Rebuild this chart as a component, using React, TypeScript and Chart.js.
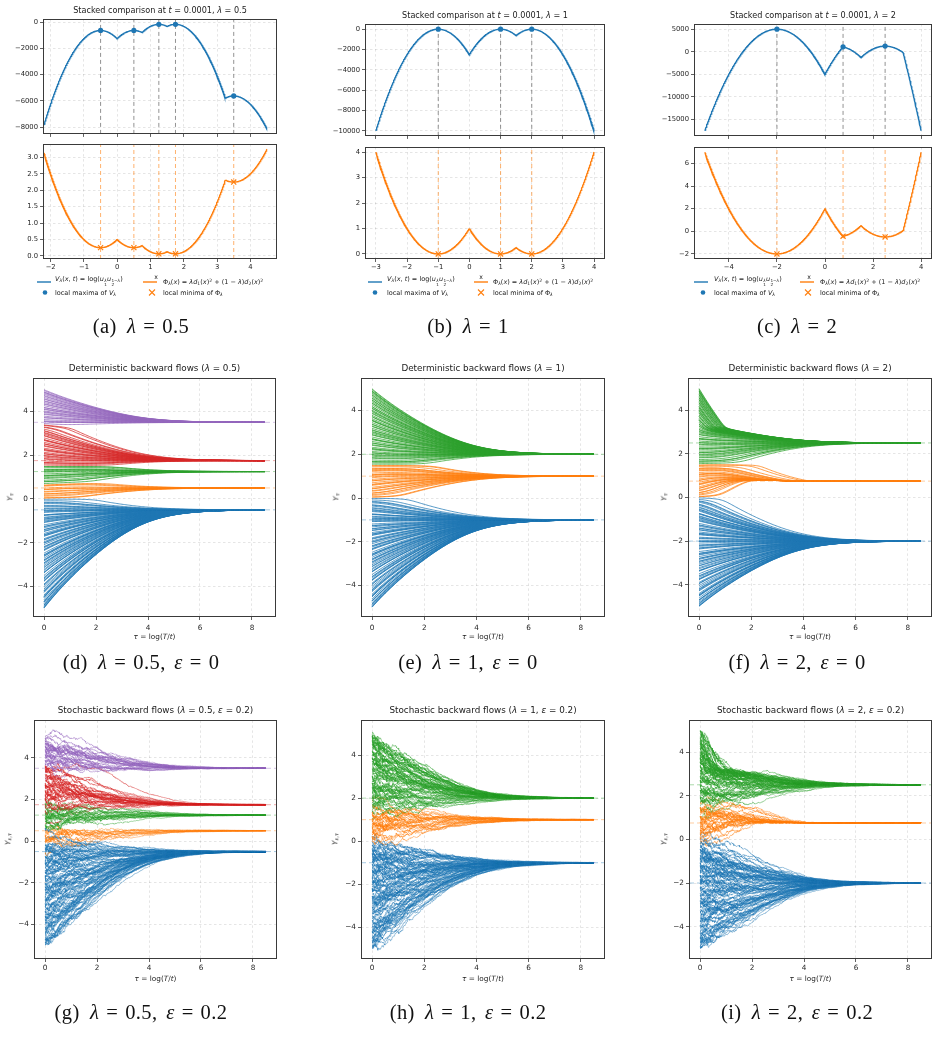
import React, { useEffect, useRef } from "react";
import { Chart, registerables } from "chart.js";
Chart.register(...registerables);

// ---------------- values ----------------
const LAMBDAS = [0.5, 1, 2];
const SET_A1 = [-1, 1, 2]; // zero set of d1 (minima of Phi for lambda = 1)
const SET_A2 = [0, 1.5, 5]; // zero set of d2
const T_SNAPSHOT = 0.0001;
const X_SPANS = [[-2.2, 4.5], [-3, 4], [-5, 4]];
const CRITICAL_POINTS = [
  [-0.5, 0.5, 1.25, 1.75, 3.5],
  [-1, 1, 2],
  [-2, 0.75, 2.5],
];
const TOP_X_LIMITS = [[-2.23, 4.8], [-3.35, 4.35], [-5.45, 4.45]];
const V_LIMITS = [[-8523, 242], [-10500, 500], [-18625, 6125]];
const PHI_LIMITS = [[-0.097, 3.409], [-0.2, 4.2], [-2.45, 7.45]];
const V_TICKS = [
  [-8000, -6000, -4000, -2000, 0],
  [-10000, -8000, -6000, -4000, -2000, 0],
  [-15000, -10000, -5000, 0, 5000],
];
const PHI_TICKS = [
  [0, 0.5, 1, 1.5, 2, 2.5, 3],
  [0, 1, 2, 3, 4],
  [-2, 0, 2, 4, 6],
];
const TOP_X_TICKS = [
  [-2, -1, 0, 1, 2, 3, 4],
  [-3, -2, -1, 0, 1, 2, 3, 4],
  [-4, -2, 0, 2, 4],
];
const TAU_TICKS = [0, 2, 4, 6, 8];
const FLOW_Y_TICKS = [-4, -2, 0, 2, 4];
const TAU_LIMITS = [-0.425, 8.925];
const DET_Y_LIMITS = [[-5.4, 5.51], [-5.44, 5.47], [-5.48, 5.46]];
const STOCH_Y_LIMITS = [[-5.66, 5.8], [-5.47, 5.61], [-5.48, 5.45]];
const TAU_END = 8.5;
const EPSILON = 0.2;
const START_POINTS = [
  -4.99, -4.97, -4.96, -4.91, -4.86, -4.85, -4.79, -4.72, -4.7, -4.69, -4.61, -4.52, -4.5, -4.47, -4.46, -4.4, -4.28, -4.25, -4.21, -4.19, -4.12, -4.04,
  -3.95, -3.94, -3.89, -3.77, -3.74, -3.73, -3.66, -3.61, -3.59, -3.5, -3.38, -3.36, -3.35, -3.27, -3.22, -3.14, -3.12, -3.05,
  -2.98, -2.93, -2.92, -2.84, -2.8, -2.79, -2.71, -2.63, -2.61, -2.57, -2.56, -2.48, -2.36, -2.33, -2.31, -2.24, -2.2, -2.18, -2.09, -2.02, -2.01,
  -1.96, -1.88, -1.86, -1.82, -1.71, -1.69, -1.65, -1.64, -1.58, -1.49, -1.47, -1.41, -1.4, -1.32, -1.27, -1.26, -1.19, -1.08, -1.06, -1.02,
  -0.98, -0.93, -0.92, -0.87, -0.84, -0.76, -0.74, -0.73, -0.62, -0.59, -0.55, -0.53, -0.47, -0.44, -0.37, -0.33, -0.31, -0.22, -0.18, -0.16, -0.09, -0.02,
  0.04, 0.05, 0.12, 0.16, 0.22, 0.23, 0.31, 0.34, 0.42, 0.43, 0.49, 0.58, 0.61, 0.63, 0.7, 0.78, 0.79, 0.85, 0.93, 0.97,
  1.03, 1.06, 1.07, 1.14, 1.22, 1.25, 1.29, 1.33, 1.34, 1.42, 1.47, 1.48, 1.55, 1.61, 1.66, 1.67, 1.74, 1.82, 1.85, 1.91, 1.96, 1.99,
  2.06, 2.07, 2.13, 2.21, 2.25, 2.26, 2.32, 2.41, 2.44, 2.51, 2.52, 2.59, 2.67, 2.7, 2.71, 2.79, 2.88, 2.9, 2.96,
  3.01, 3.04, 3.1, 3.12, 3.19, 3.27, 3.29, 3.36, 3.38, 3.45, 3.53, 3.54, 3.57, 3.63, 3.71, 3.72, 3.78, 3.86, 3.89, 3.95, 3.98,
  4.02, 4.09, 4.11, 4.17, 4.18, 4.26, 4.33, 4.35, 4.41, 4.47, 4.49, 4.56, 4.58, 4.64, 4.7, 4.73, 4.79, 4.84, 4.88, 4.89, 4.95, 4.99,
];
const SERIES_COLORS = ["#1f77b4", "#ff7f0e", "#2ca02c", "#d62728", "#9467bd"];

// flow model settings
const SMOOTH0 = 0.5;
const RATE_FLOOR = 0.3;
const RATE_KNEE = 20;
const NOISE_T = 2;

// ---------------- layout ----------------
const TOP_GEOM = [
  { l: 43, r: 277, ut: 17, ub: 134, lt: 142, lb: 259, titleY: 10,
    leg: { h1: 37, t1: 55, h2: 143, t2: 163, dot: 45, cross: 152 } },
  { l: 365, r: 605, ut: 22, ub: 136, lt: 145, lb: 259, titleY: 15,
    leg: { h1: 368, t1: 387, h2: 474, t2: 493, dot: 375, cross: 481 } },
  { l: 694, r: 932, ut: 22, ub: 136, lt: 145, lb: 259, titleY: 15,
    leg: { h1: 694, t1: 714, h2: 800, t2: 820, dot: 703, cross: 808 } },
];
const DET_GEOM = [
  { l: 33, r: 276, t: 376, b: 617, ylab: 10 },
  { l: 361, r: 605, t: 376, b: 617, ylab: 336 },
  { l: 688, r: 932, t: 376, b: 617, ylab: 664 },
];
const STOCH_GEOM = [
  { l: 34, r: 277, t: 718, b: 959, ylab: 8 },
  { l: 361, r: 605, t: 718, b: 959, ylab: 335 },
  { l: 689, r: 932, t: 718, b: 959, ylab: 664 },
];
const CAPTION_X = [141, 468, 797];
const CAPTION_Y = [326, 662, 1012];

const FONT = "DejaVu Sans";
Chart.defaults.font.family = FONT;
Chart.defaults.color = "#222";

function rgba(hex: string, a: number) {
  const n = parseInt(hex.slice(1), 16);
  return `rgba(${(n >> 16) & 255},${(n >> 8) & 255},${n & 255},${a})`;
}
function fmtNum(v: number, dec = 0) {
  const s = Math.abs(v).toFixed(dec);
  return (v < -1e-9 ? "\u2212" : "") + s;
}

// ---------------- functions of the model ----------------
function dist(x: number, set: number[]) {
  let d = Infinity;
  for (const a of set) d = Math.min(d, Math.abs(x - a));
  return d;
}
function phi(x: number, lam: number) {
  const d1 = dist(x, SET_A1), d2 = dist(x, SET_A2);
  return lam * d1 * d1 + (1 - lam) * d2 * d2;
}
function potential(x: number, lam: number) {
  return -phi(x, lam) / (4 * T_SNAPSHOT);
}
function softMean(x: number, set: number[], s2: number) {
  const e = set.map((a) => ((x - a) * (x - a)) / (2 * s2));
  const m = Math.min(...e);
  let num = 0, den = 0;
  for (let i = 0; i < set.length; i++) {
    const w = Math.exp(-(e[i] - m));
    num += w * set[i];
    den += w;
  }
  return num / den;
}
function drift(x: number, tau: number, lam: number) {
  const s2 = SMOOTH0 * Math.exp(-tau);
  const M = lam * softMean(x, SET_A1, s2) + (1 - lam) * softMean(x, SET_A2, s2);
  const et = Math.exp(tau);
  const g = RATE_FLOOR + (1 - RATE_FLOOR) * (et / (et + RATE_KNEE));
  return -g * (x - M);
}
function mulberry32(seed: number) {
  let a = seed >>> 0;
  return function () {
    a = (a + 0x6d2b79f5) >>> 0;
    let t = a;
    t = Math.imul(t ^ (t >>> 15), t | 1);
    t ^= t + Math.imul(t ^ (t >>> 7), t | 61);
    return ((t ^ (t >>> 14)) >>> 0) / 4294967296;
  };
}
function gaussFrom(rng: () => number) {
  const u = Math.max(rng(), 1e-12), v = rng();
  return Math.sqrt(-2 * Math.log(u)) * Math.cos(2 * Math.PI * v);
}
function simulate(li: number, stochastic: boolean) {
  const lam = LAMBDAS[li];
  const h = 0.01;
  const steps = Math.round(TAU_END / h);
  const every = stochastic ? 2 : 5;
  const rng = mulberry32(20240 + li * 977);
  const att = CRITICAL_POINTS[li];
  return START_POINTS.map((y0) => {
    let y = y0;
    const pts: any[] = [{ x: 0, y }];
    for (let k = 0; k < steps; k++) {
      const tau = k * h;
      if (!stochastic) {
        const k1 = drift(y, tau, lam);
        const k2 = drift(y + h * k1, tau + h, lam);
        y += (h * (k1 + k2)) / 2;
      } else {
        y += h * drift(y, tau, lam) +
          EPSILON * Math.sqrt(2 * NOISE_T * Math.exp(-tau)) * Math.sqrt(h) * gaussFrom(rng);
      }
      if ((k + 1) % every === 0) pts.push({ x: ((k + 1) * h), y });
    }
    let idx = 0;
    att.forEach((a, i) => {
      if (Math.abs(y - a) < Math.abs(y - att[idx])) idx = i;
    });
    return { pts, idx };
  });
}

// ---------------- chart helpers ----------------
const framePlugin = {
  id: "frame",
  afterDraw(chart: any) {
    const { ctx, chartArea: a } = chart;
    ctx.save();
    ctx.strokeStyle = "#3a3a3a";
    ctx.lineWidth = 1;
    ctx.strokeRect(Math.round(a.left) + 0.5, Math.round(a.top) + 0.5,
      Math.round(a.right - a.left) - 1, Math.round(a.bottom - a.top) - 1);
    ctx.restore();
  },
};

function axis(opts: any) {
  const { min, max, ticks, fmt, show, size, pad, fitSize, horizontal } = opts;
  return {
    type: "linear",
    min, max,
    afterBuildTicks: (s: any) => { s.ticks = ticks.map((v: number) => ({ value: v })); },
    afterFit: (s: any) => { if (horizontal) s.height = fitSize; else s.width = fitSize; },
    ticks: {
      display: show,
      callback: (v: number) => fmt(v),
      font: { size, family: FONT },
      color: "#262626",
      padding: pad,
      maxRotation: 0,
      autoSkip: false,
    },
    grid: {
      color: "rgba(0,0,0,0.13)",
      lineWidth: 0.8,
      drawTicks: true,
      tickLength: 3,
      tickColor: "#3a3a3a",
      tickWidth: 0.8,
      tickBorderDash: [],
    },
    border: { display: false, dash: [2.5, 2.5] },
  };
}

function ChartCanvas(props: { box: any; pad: any; build: () => any }) {
  const ref = useRef<HTMLCanvasElement>(null);
  const { box, pad } = props;
  const W = box.r - box.l + pad.l + pad.r;
  const H = box.b - box.t + pad.t + pad.b;
  useEffect(() => {
    const cfg = props.build();
    cfg.options = {
      ...cfg.options,
      animation: false,
      responsive: false,
      devicePixelRatio: 1,
      events: [],
      parsing: false,
      normalized: true,
      layout: { padding: { top: pad.t, right: pad.r, left: 0, bottom: 0 } },
      plugins: { legend: { display: false }, tooltip: { enabled: false }, title: { display: false } },
    };
    cfg.plugins = [framePlugin];
    const chart = new Chart(ref.current as HTMLCanvasElement, cfg);
    return () => chart.destroy();
  }, []);
  return (
    <canvas
      ref={ref}
      width={W}
      height={H}
      style={{ position: "absolute", left: box.l - pad.l, top: box.t - pad.t, width: W, height: H }}
    />
  );
}

// ---------------- top row: stacked comparison ----------------
function topCurve(li: number, fn: (x: number, lam: number) => number) {
  const [lo, hi] = X_SPANS[li];
  const n = 700;
  const pts: any[] = [];
  for (let i = 0; i <= n; i++) {
    const x = lo + ((hi - lo) * i) / n;
    pts.push({ x, y: fn(x, LAMBDAS[li]) });
  }
  return pts;
}

function buildUpper(li: number) {
  const lam = LAMBDAS[li];
  const [ymin, ymax] = V_LIMITS[li];
  const vlines = CRITICAL_POINTS[li].map((c) => ({
    type: "line",
    data: [{ x: c, y: ymin }, { x: c, y: ymax }],
    borderColor: "rgba(110,110,110,0.75)",
    borderWidth: 1,
    borderDash: [4, 3],
    pointRadius: 0,
    order: 5,
  }));
  return {
    type: "line",
    data: {
      datasets: [
        {
          type: "line",
          data: CRITICAL_POINTS[li].map((c) => ({ x: c, y: potential(c, lam) })),
          showLine: false,
          pointRadius: 2.6,
          pointBackgroundColor: SERIES_COLORS[0],
          pointBorderColor: SERIES_COLORS[0],
          pointBorderWidth: 0,
          order: 0,
        },
        {
          type: "line",
          data: topCurve(li, potential),
          borderColor: SERIES_COLORS[0],
          borderWidth: 1.4,
          pointRadius: 0,
          order: 1,
        },
        ...vlines,
      ],
    },
    options: {
      scales: {
        x: axis({ min: TOP_X_LIMITS[li][0], max: TOP_X_LIMITS[li][1], ticks: TOP_X_TICKS[li],
          fmt: (v: number) => fmtNum(v), show: false, size: 6.8, pad: 1, fitSize: 6, horizontal: true }),
        y: axis({ min: ymin, max: ymax, ticks: V_TICKS[li], fmt: (v: number) => fmtNum(v),
          show: true, size: 6.8, pad: 2, fitSize: 40, horizontal: false }),
      },
    },
  };
}

function buildLower(li: number) {
  const lam = LAMBDAS[li];
  const [ymin, ymax] = PHI_LIMITS[li];
  const vlines = CRITICAL_POINTS[li].map((c) => ({
    type: "line",
    data: [{ x: c, y: ymin }, { x: c, y: ymax }],
    borderColor: rgba(SERIES_COLORS[1], 0.6),
    borderWidth: 1,
    borderDash: [4, 3],
    pointRadius: 0,
    order: 5,
  }));
  return {
    type: "line",
    data: {
      datasets: [
        {
          type: "line",
          data: CRITICAL_POINTS[li].map((c) => ({ x: c, y: phi(c, lam) })),
          showLine: false,
          pointStyle: "crossRot",
          pointRadius: 3.6,
          pointBorderColor: SERIES_COLORS[1],
          pointBorderWidth: 1.2,
          order: 0,
        },
        {
          type: "line",
          data: topCurve(li, phi),
          borderColor: SERIES_COLORS[1],
          borderWidth: 1.4,
          pointRadius: 0,
          order: 1,
        },
        ...vlines,
      ],
    },
    options: {
      scales: {
        x: axis({ min: TOP_X_LIMITS[li][0], max: TOP_X_LIMITS[li][1], ticks: TOP_X_TICKS[li],
          fmt: (v: number) => fmtNum(v), show: true, size: 6.8, pad: 1.5, fitSize: 16, horizontal: true }),
        y: axis({ min: ymin, max: ymax, ticks: PHI_TICKS[li],
          fmt: (v: number) => fmtNum(v, li === 0 ? 1 : 0),
          show: true, size: 6.8, pad: 2, fitSize: 30, horizontal: false }),
      },
    },
  };
}

// ---------------- flow panels ----------------
function buildFlow(li: number, stochastic: boolean) {
  const paths = simulate(li, stochastic);
  const [ymin, ymax] = (stochastic ? STOCH_Y_LIMITS : DET_Y_LIMITS)[li];
  const alpha = stochastic ? 0.52 : 0.8;
  const width = stochastic ? 0.8 : 0.95;
  const traj = paths
    .map((p) => ({
      type: "line",
      data: p.pts,
      borderColor: rgba(SERIES_COLORS[p.idx], alpha),
      borderWidth: width,
      pointRadius: 0,
      order: 1,
    }))
    .reverse();
  const hlines = CRITICAL_POINTS[li].map((a, i) => ({
    type: "line",
    data: [{ x: TAU_LIMITS[0], y: a }, { x: TAU_LIMITS[1], y: a }],
    borderColor: rgba(SERIES_COLORS[i], 0.4),
    borderWidth: 1,
    borderDash: [5, 3],
    pointRadius: 0,
    order: 5,
  }));
  return {
    type: "line",
    data: { datasets: [...traj, ...hlines] },
    options: {
      scales: {
        x: axis({ min: TAU_LIMITS[0], max: TAU_LIMITS[1], ticks: TAU_TICKS, fmt: (v: number) => fmtNum(v),
          show: true, size: 7.3, pad: stochastic ? 2 : 3.5, fitSize: 18, horizontal: true }),
        y: axis({ min: ymin, max: ymax, ticks: FLOW_Y_TICKS, fmt: (v: number) => fmtNum(v),
          show: true, size: 7.3, pad: 2, fitSize: 30, horizontal: false }),
      },
    },
  };
}

// ---------------- text helpers ----------------
const I = (p: { children: any }) => <span style={{ fontStyle: "italic" }}>{p.children}</span>;
const Sub = (p: { children: any }) => (
  <sub style={{ fontSize: "70%", verticalAlign: "-0.25em", lineHeight: 0 }}>{p.children}</sub>
);
const Sup = (p: { children: any }) => (
  <sup style={{ fontSize: "70%", verticalAlign: "0.45em", lineHeight: 0 }}>{p.children}</sup>
);
const Stack = (p: { up: any; down: any }) => (
  <span style={{ display: "inline-flex", flexDirection: "column", fontSize: "65%", lineHeight: 0.95,
    verticalAlign: "-0.35em", margin: "0 0.05em" }}>
    <span>{p.up}</span>
    <span>{p.down}</span>
  </span>
);
const Eq = () => <span style={{ margin: "0 0.34em" }}>=</span>;

function Txt(p: { x: number; y: number; size: number; children: any; rotate?: boolean; align?: string; family?: string; color?: string; spacing?: string }) {
  const tx = p.align === "left" ? "0" : "-50%";
  return (
    <div
      style={{
        position: "absolute",
        left: p.x,
        top: p.y,
        transform: `translate(${tx},-50%)${p.rotate ? " rotate(-90deg)" : ""}`,
        fontFamily: p.family || FONT,
        fontSize: p.size,
        color: p.color || "#1a1a1a",
        whiteSpace: "nowrap",
        lineHeight: 1,
        letterSpacing: p.spacing || "normal",
      }}
    >
      {p.children}
    </div>
  );
}

function Legend(p: { g: any }) {
  const { leg } = p.g;
  const y1 = 282, y2 = 292.5;
  const fs = 6.5;
  return (
    <>
      <svg style={{ position: "absolute", left: 0, top: 0, overflow: "visible" }} width={1} height={1}>
        <line x1={leg.h1} x2={leg.h1 + 14} y1={y1} y2={y1} stroke={SERIES_COLORS[0]} strokeWidth={1.4} />
        <line x1={leg.h2} x2={leg.h2 + 14} y1={y1} y2={y1} stroke={SERIES_COLORS[1]} strokeWidth={1.4} />
        <circle cx={leg.dot} cy={y2} r={2.3} fill={SERIES_COLORS[0]} />
        <path d={`M${leg.cross - 3},${y2 - 3} L${leg.cross + 3},${y2 + 3} M${leg.cross - 3},${y2 + 3} L${leg.cross + 3},${y2 - 3}`}
          stroke={SERIES_COLORS[1]} strokeWidth={1.1} />
      </svg>
      <Txt x={leg.t1} y={y1} size={fs} align="left">
        <I>V</I><Sub><I>λ</I></Sub>(<I>x</I>, <I>t</I>) = log(<I>u</I><Stack up={<I>λ</I>} down="1" /><I>u</I>
        <Stack up={<>1−<I>λ</I></>} down="2" />)
      </Txt>
      <Txt x={leg.t2} y={y1} size={fs} align="left">
        Φ<Sub><I>λ</I></Sub>(<I>x</I>) = <I>λd</I><Sub>1</Sub>(<I>x</I>)<Sup>2</Sup> + (1 − <I>λ</I>)<I>d</I><Sub>2</Sub>(<I>x</I>)<Sup>2</Sup>
      </Txt>
      <Txt x={leg.t1} y={y2} size={fs} align="left">local maxima of <I>V</I><Sub><I>λ</I></Sub></Txt>
      <Txt x={leg.t2} y={y2} size={fs} align="left">local minima of Φ<Sub><I>λ</I></Sub></Txt>
    </>
  );
}

function Caption(p: { x: number; y: number; letter: string; lam: string; eps?: string }) {
  return (
    <Txt x={p.x} y={p.y} size={20.5} family="'Liberation Serif', 'DejaVu Serif', serif" color="#111" spacing="0.02em">
      ({p.letter})<span style={{ marginLeft: "0.5em" }} /><I>λ</I><Eq />{p.lam}
      {p.eps !== undefined ? (<>,<span style={{ marginLeft: "0.42em" }} /><I>ε</I><Eq />{p.eps}</>) : null}
    </Txt>
  );
}

const TOP_PAD_UP = { l: 40, r: 6, t: 4, b: 6 };
const TOP_PAD_LO = { l: 30, r: 6, t: 4, b: 16 };
const FLOW_PAD = { l: 30, r: 6, t: 4, b: 18 };

export default function App() {
  const lamText = ["0.5", "1", "2"];
  return (
    <div style={{ position: "absolute", left: 0, top: 0, width: 939, height: 1048, background: "#fff", overflow: "hidden" }}>
      {TOP_GEOM.map((g, li) => (
        <React.Fragment key={"top" + li}>
          <ChartCanvas box={{ l: g.l, r: g.r, t: g.ut, b: g.ub }} pad={TOP_PAD_UP} build={() => buildUpper(li)} />
          <ChartCanvas box={{ l: g.l, r: g.r, t: g.lt, b: g.lb }} pad={TOP_PAD_LO} build={() => buildLower(li)} />
          <Txt x={(g.l + g.r) / 2} y={g.titleY} size={8.1}>
            Stacked comparison at <I>t</I> = 0.0001, <I>λ</I> = {lamText[li]}
          </Txt>
          <Txt x={(g.l + g.r) / 2 - 4} y={276.5} size={6.2}>x</Txt>
          <Legend g={g} />
          <Caption x={CAPTION_X[li]} y={CAPTION_Y[0]} letter={"abc"[li]} lam={lamText[li]} />
        </React.Fragment>
      ))}
      {DET_GEOM.map((g, li) => (
        <React.Fragment key={"det" + li}>
          <ChartCanvas box={g} pad={FLOW_PAD} build={() => buildFlow(li, false)} />
          <Txt x={(g.l + g.r) / 2} y={g.t - 8.5} size={8.8}>
            Deterministic backward flows (<I>λ</I> = {lamText[li]})
          </Txt>
          <Txt x={(g.l + g.r) / 2} y={637} size={7.3}>
            <I>τ</I> = log(<I>T</I>/<I>t</I>)
          </Txt>
          <Txt x={g.ylab} y={(g.t + g.b) / 2} size={7.3} rotate>
            <I>Y</I><Sub><I>τ</I></Sub>
          </Txt>
          <Caption x={CAPTION_X[li]} y={CAPTION_Y[1]} letter={"def"[li]} lam={lamText[li]} eps="0" />
        </React.Fragment>
      ))}
      {STOCH_GEOM.map((g, li) => (
        <React.Fragment key={"sto" + li}>
          <ChartCanvas box={g} pad={FLOW_PAD} build={() => buildFlow(li, true)} />
          <Txt x={(g.l + g.r) / 2} y={g.t - 8} size={8.8}>
            Stochastic backward flows (<I>λ</I> = {lamText[li]}, <I>ε</I> = 0.2)
          </Txt>
          <Txt x={(g.l + g.r) / 2} y={979} size={7.3}>
            <I>τ</I> = log(<I>T</I>/<I>t</I>)
          </Txt>
          <Txt x={g.ylab} y={(g.t + g.b) / 2} size={7.3} rotate>
            <I>Y</I><Sub><I>ε</I>,<I>τ</I></Sub>
          </Txt>
          <Caption x={CAPTION_X[li]} y={CAPTION_Y[2]} letter={"ghi"[li]} lam={lamText[li]} eps="0.2" />
        </React.Fragment>
      ))}
    </div>
  );
}
